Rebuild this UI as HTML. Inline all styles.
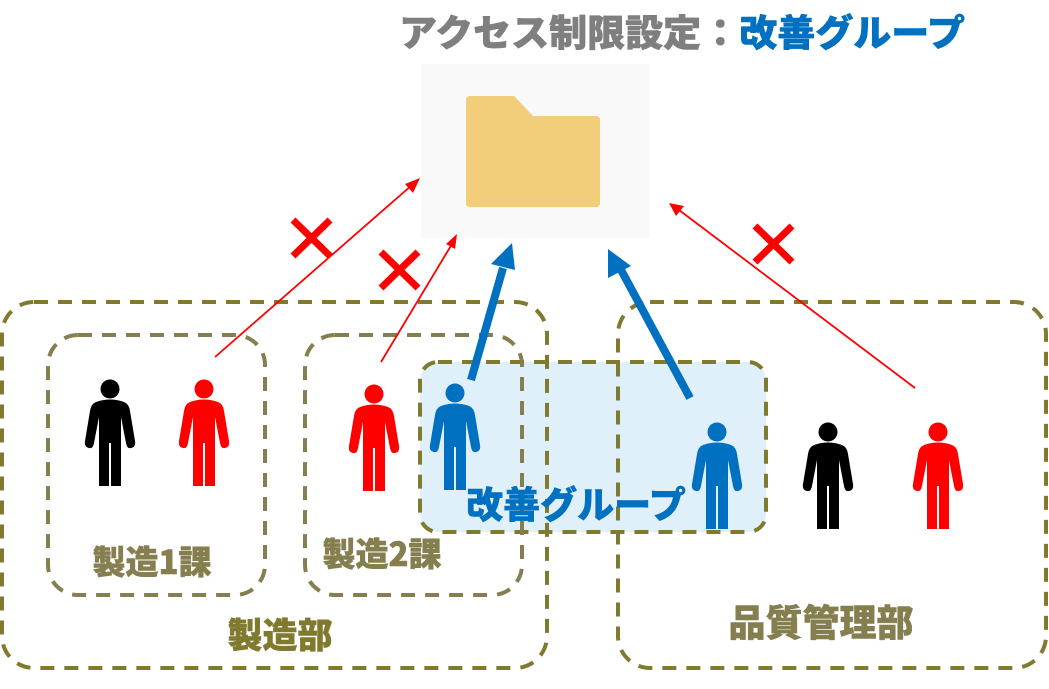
<!DOCTYPE html>
<html><head><meta charset="utf-8"><style>
html,body{margin:0;padding:0;background:#fff;}
svg{display:block;font-family:"Noto Sans CJK JP","Liberation Sans",sans-serif;font-weight:900;}
</style></head><body>
<svg width="1049" height="689" viewBox="0 0 1049 689" xmlns="http://www.w3.org/2000/svg">
<defs>
<g id="p">
<circle cx="0" cy="0" r="9.5"/>
<path d="M-14,13 Q0,8 14,13 Q19,15 20,22 L25,52 Q26,58 21,59 Q17,60 16,54 L11,28 L11,97 L1,97 L1,54 L-1,54 L-1,97 L-11,97 L-11,28 L-16,54 Q-17,60 -21,59 Q-26,58 -25,52 L-20,22 Q-19,15 -14,13Z"/>
</g>
</defs>
<text x="399" y="46" font-size="37" fill="#7f7f7f" stroke="#7f7f7f" stroke-width="0.6" textLength="566" lengthAdjust="spacingAndGlyphs">アクセス制限設定：<tspan fill="#0070c0" stroke="#0070c0">改善グループ</tspan></text>
<rect x="421" y="64" width="229" height="174" fill="#f9f9f9"/>
<path d="M470,96 L514,96 L533,116 L596,116 Q600,116 600,120 L600,203 Q600,207 596,207 L470,207 Q466,207 466,203 L466,100 Q466,96 470,96Z" fill="#f2cd7a"/>
<rect x="420" y="362" width="346" height="170" rx="18" fill="#dff0fb"/>
<g fill="none" stroke="#7f7a2e" stroke-width="4" stroke-dasharray="14 10">
<rect x="2" y="302" width="545" height="366" rx="32"/>
<rect x="618" y="302" width="428" height="366" rx="32"/>
<rect x="420" y="362" width="346" height="170" rx="18"/>
</g>
<g fill="none" stroke="#857e4e" stroke-width="4" stroke-dasharray="14 10">
<rect x="48" y="335" width="217" height="260" rx="30"/>
<rect x="305" y="335" width="217" height="260" rx="30"/>
</g>
<use href="#p" x="110" y="389" fill="#000"/>
<use href="#p" x="204" y="389" fill="#ff0000"/>
<use href="#p" x="374" y="394" fill="#ff0000"/>
<use href="#p" x="455" y="393" fill="#0070c0"/>
<use href="#p" x="717" y="432" fill="#0070c0"/>
<use href="#p" x="828" y="432" fill="#000"/>
<use href="#p" x="938" y="432" fill="#ff0000"/>
<g stroke-width="0.5">
<text x="152" y="574" font-size="33" fill="#857e4e" stroke="#857e4e" text-anchor="middle">製造1課</text>
<text x="382" y="566" font-size="33" fill="#857e4e" stroke="#857e4e" text-anchor="middle">製造2課</text>
<text x="280" y="648" font-size="35" fill="#7f7a2e" stroke="#7f7a2e" text-anchor="middle">製造部</text>
<text x="821" y="636" font-size="37" fill="#857e4e" stroke="#857e4e" text-anchor="middle">品質管理部</text>
<text x="576" y="518" font-size="37" fill="#0070c0" stroke="#0070c0" text-anchor="middle">改善グループ</text>
</g>
<g stroke="#ff0000" stroke-width="1.8">
<line x1="215" y1="357" x2="412" y2="185"/>
<line x1="381" y1="362" x2="452" y2="244"/>
<line x1="915" y1="388" x2="679" y2="210"/>
</g>
<g fill="#ff0000">
<polygon points="420,178 405,184 413,193"/>
<polygon points="457,234 446,244 455,249"/>
<polygon points="669,203 676,216 684,206"/>
</g>
<g stroke="#ff0000" stroke-width="7">
<line x1="293" y1="220" x2="330" y2="256"/><line x1="330" y1="220" x2="293" y2="256"/>
<line x1="381" y1="252" x2="418" y2="288"/><line x1="418" y1="252" x2="381" y2="288"/>
<line x1="755" y1="226" x2="792" y2="262"/><line x1="792" y1="226" x2="755" y2="262"/>
</g>
<g stroke="#0070c0" stroke-width="8">
<line x1="471" y1="380" x2="503" y2="268"/>
<line x1="690" y1="398" x2="620" y2="268"/>
</g>
<g fill="#0070c0">
<polygon points="512,243 491,264 515,270"/>
<polygon points="608,249 608,278 631,266"/>
</g>
</svg>
</body></html>
